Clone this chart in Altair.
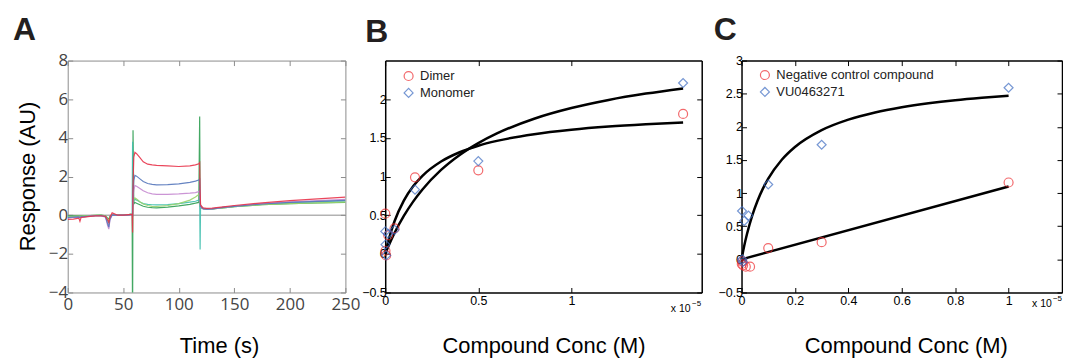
import altair as alt
import pandas as pd

FONT = "Liberation Sans"
IN = {"expr": "-5"}   # inward ticks

# ---------------- Panel A : sensorgram ----------------
time_s = [0, 5, 10, 11, 12, 15, 20, 25, 30, 34, 36, 37, 38, 40, 45, 50, 55, 58, 58.4, 58.8,
          59.5, 60.5, 62, 65, 68, 72, 76, 80, 90, 100, 110, 115, 118, 118.8, 119.2, 119.6,
          120.5, 122, 125, 130, 140, 150, 175, 200, 225, 250]
resp_green = [-0.05, -0.04, -0.03, -0.05, -0.04, -0.03, -0.02, -0.01, 0.0, -0.03,
              -0.15, -0.2, -0.05, 0.02, 0.02, 0.02, 0.03, 0.05, -6.0, 4.4,
              0.58, 0.66, 0.62, 0.54, 0.46, 0.41, 0.39, 0.38, 0.42, 0.48,
              0.56, 0.62, 0.66, 5.1, 0.45, 0.42, 0.38, 0.33, 0.3, 0.32,
              0.38, 0.44, 0.54, 0.6, 0.63, 0.66]
resp_teal = [-0.1, -0.08, -0.07, -0.08, -0.07, -0.05, -0.03, -0.02, -0.01, -0.05,
             -0.3, -0.4, -0.12, 0.0, 0.0, 0.01, 0.03, 0.05, 3.8, 0.5,
             0.76, 0.82, 0.78, 0.68, 0.6, 0.56, 0.54, 0.53, 0.55, 0.6,
             0.68, 0.72, 0.78, 0.8, -1.77, 0.5, 0.4, 0.34, 0.31, 0.33,
             0.4, 0.46, 0.58, 0.65, 0.7, 0.74]
resp_lightgreen = [-0.08, -0.06, -0.05, -0.06, -0.05, -0.04, -0.02, -0.01, 0.0, -0.04,
                   -0.2, -0.3, -0.08, 0.02, 0.02, 0.02, 0.03, 0.05, 0.0, 0.6,
                   0.8, 0.9, 0.84, 0.7, 0.58, 0.5, 0.46, 0.45, 0.5, 0.6,
                   0.78, 0.94, 1.07, 1.12, 0.6, 0.42, 0.38, 0.32, 0.3, 0.32,
                   0.38, 0.44, 0.54, 0.6, 0.64, 0.68]
resp_purple = [-0.15, -0.12, -0.1, -0.14, -0.1, -0.08, -0.05, -0.03, -0.02, -0.1,
               -0.55, -0.72, -0.25, 0.0, 0.0, 0.0, 0.02, 0.04, 0.0, 1.0,
               1.3, 1.53, 1.5, 1.38, 1.26, 1.16, 1.1, 1.08, 1.08, 1.1,
               1.14, 1.17, 1.22, 1.26, 0.7, 0.42, 0.38, 0.33, 0.31, 0.33,
               0.4, 0.47, 0.6, 0.69, 0.75, 0.82]
resp_blue = [-0.12, -0.1, -0.09, -0.12, -0.08, -0.07, -0.05, -0.03, -0.02, -0.08,
             -0.45, -0.62, -0.2, 0.02, 0.0, 0.0, 0.02, 0.04, 0.0, 1.2,
             1.8, 2.06, 2.02, 1.88, 1.74, 1.64, 1.59, 1.57, 1.58, 1.62,
             1.7, 1.76, 1.82, 1.86, 0.8, 0.45, 0.4, 0.34, 0.31, 0.33,
             0.4, 0.46, 0.58, 0.66, 0.71, 0.77]
resp_red = [-0.22, -0.2, -0.15, -0.32, -0.12, -0.1, -0.06, -0.04, -0.03, -0.06,
            -0.25, -0.38, -0.1, 0.12, 0.0, 0.0, 0.03, 0.05, -0.9, 1.6,
            3.0, 3.25, 3.18, 2.98, 2.76, 2.64, 2.6, 2.58, 2.55, 2.52,
            2.55, 2.6, 2.66, 2.72, 1.2, 0.55, 0.46, 0.38, 0.35, 0.37,
            0.43, 0.5, 0.64, 0.75, 0.84, 0.93]
trace_names = ["green", "teal", "lightgreen", "purple", "blue", "red"]
trace_colors = ["#2f9e52", "#3fbfae", "#9ad36a", "#c58ad0", "#5577bb", "#e8334a"]
a_xticks = [0, 50, 100, 150, 200, 250]
a_yticks = [-4, -2, 0, 2, 4, 6, 8]
a_xdom = [0, 250]
a_ydom = [-4, 8]

# ---------------- Panel B ----------------
b_conc = [0.0005, 0.0015, 0.005, 0.016, 0.05, 0.16, 0.5, 1.6]       # x 1e-5 M
b_dimer = [0.52, 0.04, -0.02, 0.24, 0.33, 0.99, 1.08, 1.81]
b_monomer = [0.29, 0.12, -0.02, 0.26, 0.31, 0.83, 1.20, 2.21]
b_fit_x = [0, 0.02, 0.05, 0.1, 0.15, 0.2, 0.3, 0.4, 0.5, 0.6, 0.8, 1.0, 1.2, 1.4, 1.6]
b_fit_dimer = [0, 0.195, 0.421, 0.689, 0.874, 1.009, 1.194, 1.314, 1.399, 1.461,
               1.548, 1.605, 1.646, 1.676, 1.700]
b_fit_monomer = [0, 0.114, 0.269, 0.490, 0.675, 0.832, 1.085, 1.279, 1.432, 1.557,
                 1.748, 1.886, 1.991, 2.073, 2.140]
b_series = ["Dimer", "Monomer"]
b_xticks = [0, 0.5, 1]
b_yticks = [-0.5, 0, 0.5, 1, 1.5, 2]
b_xdom = [0, 1.7]
b_ydom = [-0.5, 2.5]

# ---------------- Panel C ----------------
c_neg_x = [0.001, 0.003, 0.006, 0.016, 0.032, 0.1, 0.3, 1.0]
c_neg_y = [-0.07, -0.03, -0.09, -0.11, -0.11, 0.17, 0.26, 1.16]
c_vu_x = [0.002, 0.003, 0.005, 0.01, 0.026, 0.1, 0.3, 1.0]
c_vu_y = [0.73, 0.0, -0.04, 0.58, 0.66, 1.13, 1.73, 2.59]
c_fit_vu_x = [0, 0.01, 0.02, 0.04, 0.06, 0.08, 0.1, 0.15, 0.2, 0.3, 0.4, 0.5, 0.6, 0.7, 0.8, 0.9, 1.0]
c_fit_vu_y = [0, 0.201, 0.374, 0.660, 0.885, 1.068, 1.218, 1.499, 1.695, 1.950, 2.109,
              2.217, 2.295, 2.355, 2.402, 2.439, 2.470]
c_fit_neg_x = [0, 1.0]
c_fit_neg_y = [0, 1.10]
c_series = ["Negative control compound", "VU0463271"]
c_xticks = [0, 0.2, 0.4, 0.6, 0.8, 1]
c_yticks = [-0.5, 0, 0.5, 1, 1.5, 2, 2.5, 3]
c_xdom = [0, 1.2]
c_ydom = [-0.5, 3]

RED = "#ee2b2f"
BLUE = "#3d6cc2"


def axis(orient, values, color, lfont, lsize, lcolor, lpad, labels=True, dwidth=1.0, **kw):
    return alt.Axis(orient=orient, values=values, format="~r", grid=False,
                    domain=True, domainColor=color, domainWidth=dwidth,
                    ticks=True, tickColor=color, tickSize=IN, tickWidth=1,
                    labels=labels, labelFont=lfont, labelFontSize=lsize,
                    labelColor=lcolor, labelPadding=lpad, labelFlush=False,
                    labelOverlap=False, **kw)


def frame(xdom, ydom, xt, yt, color, dwidth):
    df = pd.DataFrame({"fx": xdom, "fy": ydom})
    return alt.Chart(df).mark_point(opacity=0, size=1).encode(
        x=alt.X("fx:Q", title=None, scale=alt.Scale(domain=xdom, nice=False, zero=False),
                axis=axis("top", xt, color, FONT, 10, "black", 2, labels=False, dwidth=dwidth)),
        y=alt.Y("fy:Q", title=None, scale=alt.Scale(domain=ydom, nice=False, zero=False),
                axis=axis("right", yt, color, FONT, 10, "black", 2, labels=False, dwidth=dwidth)),
    )


def letter(txt, dx, dy):
    return alt.TitleParams(text=txt, anchor="start", frame="group", dx=dx, dy=dy, offset=18,
                           baseline="alphabetic", font=FONT, fontSize=32,
                           fontWeight="bold", color="#231f20")


# ----- build A -----
rows = []
for name, vals in zip(trace_names, [resp_green, resp_teal, resp_lightgreen, resp_purple, resp_blue, resp_red]):
    for t, v in zip(time_s, vals):
        rows.append({"time": t, "resp": v, "trace": name})
dfA = pd.DataFrame(rows)
GRAY = "#8c8c8c"
a_sx = alt.Scale(domain=a_xdom, nice=False, zero=False)
a_sy = alt.Scale(domain=a_ydom, nice=False, zero=False)

zero = alt.Chart(pd.DataFrame({"z": [0]})).mark_rule(color=GRAY, strokeWidth=1).encode(
    y=alt.Y("z:Q", scale=a_sy, axis=None))
linesA = alt.Chart(dfA).mark_line(strokeWidth=1.2, clip=True, opacity=0.9).encode(
    x=alt.X("time:Q", scale=a_sx,
            axis=axis("bottom", a_xticks, GRAY, "Open Sans", 17, "#444", 9,
                      title="Time (s)", titleFont=FONT, titleFontSize=22, titleFontWeight="normal",
                      titleColor="black", titleX=152, titleY=60, titleBaseline="alphabetic")),
    y=alt.Y("resp:Q", scale=a_sy,
            axis=axis("left", a_yticks, GRAY, "Open Sans", 17, "#444", 5,
                      title="Response (AU)", titleFont=FONT, titleFontSize=22, titleFontWeight="normal",
                      titleColor="black", titleAngle=270, titleX=-33, titleY=116,
                      titleBaseline="alphabetic", titleAlign="center")),
    color=alt.Color("trace:N", scale=alt.Scale(domain=trace_names, range=trace_colors), legend=None),
)
chartA = alt.layer(frame(a_xdom, a_ydom, a_xticks, a_yticks, GRAY, 1.0), zero, linesA).resolve_axis(
    x="independent", y="independent").properties(width=279, height=233, title=letter("A", -55, 38))


def panel(xdom, ydom, xt, yt, series, px, py, fx, fy, letter_txt, dx, dy, width, titleX,
          leg_x, leg_y, exp_pos):
    sx = alt.Scale(domain=xdom, nice=False, zero=False)
    sy = alt.Scale(domain=ydom, nice=False, zero=False)
    pts = []
    for s, xs, ys in zip(series, px, py):
        for a, b in zip(xs, ys):
            pts.append({"cx": a, "cy": b, "series": s})
    dfp = pd.DataFrame(pts)
    fits = []
    for i, (xs, ys) in enumerate(zip(fx, fy)):
        for a, b in zip(xs, ys):
            fits.append({"fx": a, "fy": b, "curve": i})
    dff = pd.DataFrame(fits)
    leg = alt.Legend(orient="none", legendX=leg_x, legendY=leg_y, padding=0,
                     labelFont=FONT, labelFontSize=13, labelColor="#222",
                     symbolSize=81, symbolStrokeWidth=1.2, labelOffset=5, rowPadding=2)
    curves = alt.Chart(dff).mark_line(color="black", strokeWidth=2.5, interpolate="monotone").encode(
        x=alt.X("fx:Q", scale=sx,
                axis=axis("bottom", xt, "black", FONT, 12.5, "black", 7, dwidth=1.5,
                          title="Compound Conc (M)", titleFont=FONT, titleFontSize=22,
                          titleFontWeight="normal", titleColor="black", titleX=titleX,
                          titleY=60, titleBaseline="alphabetic")),
        y=alt.Y("fy:Q", scale=sy, title=None,
                axis=axis("left", yt, "black", FONT, 12.5, "black", 4, dwidth=1.5)),
        detail="curve:N",
    )
    points = alt.Chart(dfp).mark_point(filled=False, size=81, strokeWidth=1.2).encode(
        x=alt.X("cx:Q", scale=sx, axis=None),
        y=alt.Y("cy:Q", scale=sy, axis=None),
        color=alt.Color("series:N", title=None,
                        scale=alt.Scale(domain=series, range=[RED, BLUE]), legend=leg),
        shape=alt.Shape("series:N", title=None,
                        scale=alt.Scale(domain=series, range=["circle", "diamond"]), legend=leg),
    )
    (ex, ey, sx2, sy2) = exp_pos
    exp1 = alt.Chart(pd.DataFrame({"d": [0]})).mark_text(
        text="x 10", align="left", baseline="middle", font=FONT, fontSize=10.5, color="black").encode(
        x=alt.XDatum(ex, scale=sx, axis=None), y=alt.YDatum(ey, scale=sy, axis=None))
    exp2 = alt.Chart(pd.DataFrame({"d": [0]})).mark_text(
        text="\u22125", align="left", baseline="middle", font=FONT, fontSize=8, color="black").encode(
        x=alt.XDatum(sx2, scale=sx, axis=None), y=alt.YDatum(sy2, scale=sy, axis=None))
    return alt.layer(frame(xdom, ydom, xt, yt, "black", 1.5), curves, points, exp1, exp2).resolve_axis(
        x="independent", y="independent").properties(width=width, height=233,
                                                      title=letter(letter_txt, dx, dy))


chartB = panel(b_xdom, b_ydom, b_xticks, b_yticks, b_series,
               [b_conc, b_conc], [b_dimer, b_monomer],
               [b_fit_x, b_fit_x], [b_fit_dimer, b_fit_monomer],
               "B", -20, 32, 318, 159, 17, 9, (1.534, -0.719, 1.648, -0.648))
chartC = panel(c_xdom, c_ydom, c_xticks, c_yticks, c_series,
               [c_neg_x, c_vu_x], [c_neg_y, c_vu_y],
               [c_fit_vu_x, c_fit_neg_x], [c_fit_vu_y, c_fit_neg_y],
               "C", -28, 35, 322, 165, 17, 8, (1.088, -0.68, 1.166, -0.598))

chart = alt.hconcat(chartA, chartB, chartC, spacing=40, bounds="flush").resolve_scale(
    color="independent", shape="independent").properties(
    padding={"left": 4, "top": 4, "right": 0, "bottom": 0}
).configure_view(stroke="transparent")

chart.save("out.html", embed_options={"renderer": "svg", "actions": False})
